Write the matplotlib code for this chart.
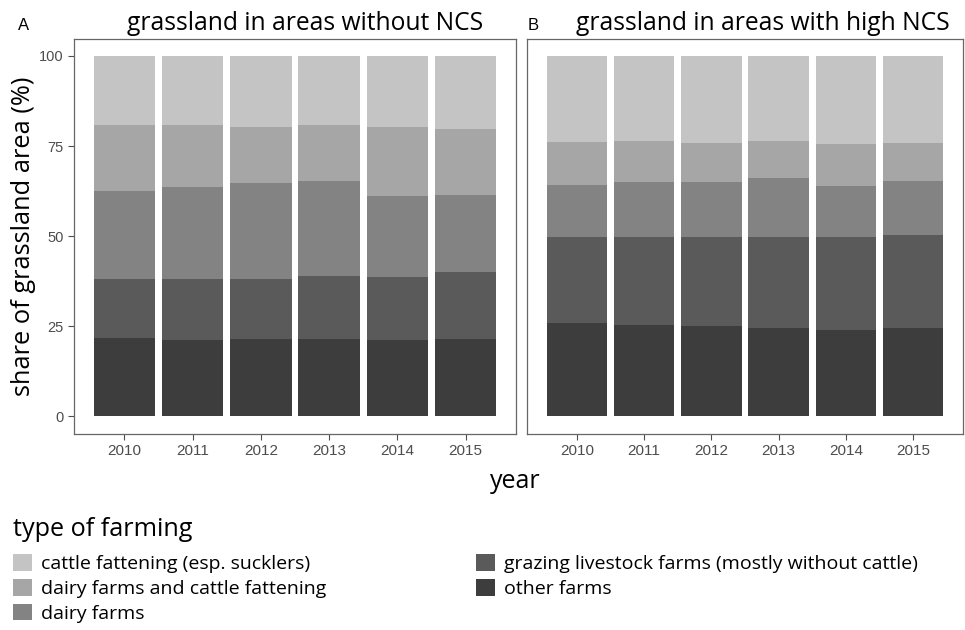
import matplotlib
matplotlib.use("Agg")
import matplotlib.pyplot as plt
from matplotlib.patches import Patch
from matplotlib import font_manager
import numpy as np

years = ["2010", "2011", "2012", "2013", "2014", "2015"]
categories = [
    "cattle fattening (esp. sucklers)",
    "dairy farms and cattle fattening",
    "dairy farms",
    "grazing livestock farms (mostly without cattle)",
    "other farms",
]
colors = ["#c4c4c4", "#a6a6a6", "#838383", "#5a5a5a", "#3d3d3d"]

# shares (%) per farming type, panel A: areas without NCS
other_a = [21.6, 21.3, 21.4, 21.4, 21.3, 21.4]
grazing_a = [16.4, 16.7, 16.8, 17.5, 17.5, 18.7]
dairy_a = [24.5, 25.6, 26.5, 26.4, 22.4, 21.2]
dairy_fatt_a = [18.4, 17.3, 15.7, 15.6, 19.1, 18.5]
fatt_a = [19.1, 19.1, 19.6, 19.1, 19.7, 20.2]

# panel B: areas with high NCS
other_b = [25.8, 25.3, 25.0, 24.6, 23.9, 24.6]
grazing_b = [24.0, 24.5, 24.8, 25.2, 25.8, 25.6]
dairy_b = [14.5, 15.1, 15.3, 16.3, 14.2, 15.1]
dairy_fatt_b = [11.8, 11.5, 10.8, 10.4, 11.8, 10.6]
fatt_b = [23.9, 23.6, 24.1, 23.5, 24.3, 24.1]

available = {f.name for f in font_manager.fontManager.ttflist}
title_font = "Open Sans" if "Open Sans" in available else "DejaVu Sans"
tick_font = "Liberation Sans" if "Liberation Sans" in available else "DejaVu Sans"

fig = plt.figure(figsize=(9.65, 6.3), dpi=100)
W, H = 965, 630


def axes_px(left, top, right, bottom):
    return fig.add_axes([left / W, 1 - bottom / H, (right - left) / W, (bottom - top) / H])


ax_a = axes_px(74, 39, 516, 434)
ax_b = axes_px(527, 39, 963, 434)

panels = [
    (ax_a, [other_a, grazing_a, dairy_a, dairy_fatt_a, fatt_a]),
    (ax_b, [other_b, grazing_b, dairy_b, dairy_fatt_b, fatt_b]),
]
x = np.arange(len(years))
for ax, stacks in panels:
    bottom = np.zeros(len(years))
    for vals, col in zip(stacks, colors[::-1]):
        ax.bar(x, vals, bottom=bottom, width=0.9, color=col, edgecolor="none")
        bottom += np.array(vals)
    ax.set_xlim(-0.74, len(years) - 1 + 0.74)
    ax.set_ylim(-4.9, 104.7)
    ax.set_xticks(x)
    ax.set_xticklabels(years, fontfamily=tick_font, fontsize=11, color="#4d4d4d")
    ax.set_yticks([0, 25, 50, 75, 100])
    ax.tick_params(axis="both", length=4, color="#4d4d4d", width=0.8)
    ax.tick_params(axis="x", pad=3)
    ax.tick_params(axis="y", pad=3.5)
    for s in ax.spines.values():
        s.set_color("#666666")
        s.set_linewidth(0.9)
    ax.set_facecolor("white")

ax_a.set_yticklabels(["0", "25", "50", "75", "100"], fontfamily=tick_font, fontsize=10.5, color="#4d4d4d")
ax_b.set_yticklabels([])
ax_b.tick_params(axis="y", length=0)

fig.text(24 / W, 1 - 236 / H, "share of grassland area (%)", fontfamily=title_font,
         fontsize=18.3, rotation=90, va="center", ha="center")

fig.text(18 / W, 1 - 26 / H, "A", fontfamily=tick_font, fontsize=12, va="center", ha="left")
fig.text(127 / W, 1 - 24 / H, "grassland in areas without NCS", fontfamily=title_font,
         fontsize=17.7, va="center", ha="left")
fig.text(528 / W, 1 - 26 / H, "B", fontfamily=tick_font, fontsize=12, va="center", ha="left")
fig.text(576 / W, 1 - 24 / H, "grassland in areas with high NCS", fontfamily=title_font,
         fontsize=17.7, va="center", ha="left")
fig.text(515 / W, 1 - 481 / H, "year", fontfamily=title_font, fontsize=18, va="center", ha="center")

handles = [Patch(facecolor=c, edgecolor="none") for c in colors]
leg = fig.legend(handles, categories, loc="upper left", bbox_to_anchor=(-1 / W, 1 - 503 / H),
                 ncol=2, frameon=False, title="type of farming",
                 prop={"family": title_font, "size": 14},
                 handlelength=1.0, handleheight=0.95, handletextpad=0.45,
                 columnspacing=7.7, labelspacing=0.3, borderpad=0.2)
leg.get_title().set_fontfamily(title_font)
leg.get_title().set_fontsize(18.2)
leg._legend_box.align = "left"
leg._legend_box.sep = 8.8

fig.savefig("out.png", dpi=100, facecolor="white")
